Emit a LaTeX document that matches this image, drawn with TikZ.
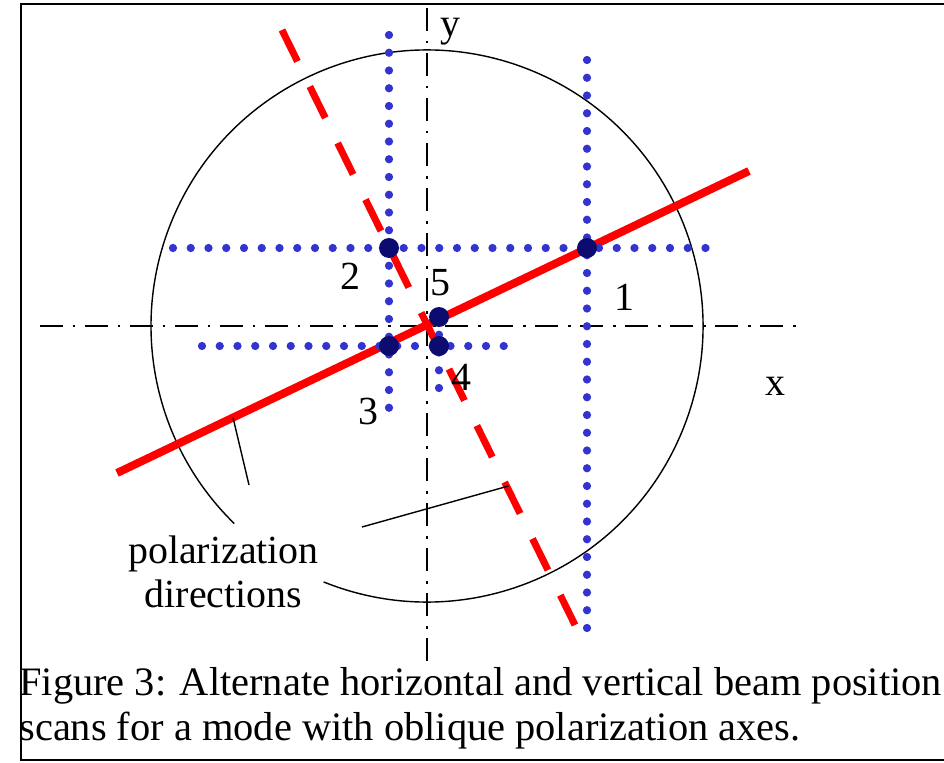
\documentclass[tikz,border=0pt]{standalone}
\usepackage{fontspec}
\setmainfont{Liberation Serif}
\usetikzlibrary{calc}
\definecolor{beamred}{HTML}{FF0000}
\definecolor{scanblue}{HTML}{3333D0}
\definecolor{spotnavy}{HTML}{0B0B70}

\begin{document}
\begin{tikzpicture}[
  axis/.style={black, line width=0.7pt, dash pattern=on 0.46cm off 0.2cm on 0.05cm off 0.19cm},
  rim/.style={black, line width=0.8pt},
  major/.style={beamred, line width=0.16cm},
  minor/.style={beamred, line width=0.14cm, dash pattern=on 0.7cm off 0.56cm},
  scan/.style={scanblue, line width=0.165cm, line cap=round, dash pattern=on 0pt off 0.355cm},
  spot/.style={circle, fill=spotnavy, minimum size=0.4cm, inner sep=0pt},
  lbl/.style={font=\fontsize{22.7}{24.8}\selectfont, inner sep=0pt, anchor=base},
  captxt/.style={font=\fontsize{23}{26}\selectfont, inner sep=0pt, anchor=base west},
  leader/.style={black, line width=0.8pt},
  frame/.style={black, line width=0.04cm},
]

\useasboundingbox (-8.54,-8.72) rectangle (10.34,6.52);

% geometry
\def\R{5.52}        % ring radius

% ---------- axes and ring ----------
\draw[axis] (-7.74,0) -- (7.56,0);
\draw[axis] (0,6.36) -- (0,-6.72);
\draw[rim] (-112:\R) arc[start angle=-112, end angle=225.7, radius=\R];

% ---------- polarization axes ----------
\coordinate (majA) at (-6.2,-2.94);
\coordinate (majB) at (6.44,3.1);
\coordinate (minA) at (-2.9,5.92);
\coordinate (minB) at (2.96,-5.98);
\draw[major] (majA) -- (majB);
\draw[minor] (minA) -- (minB);

% ---------- scan lines through the beam positions ----------
\coordinate (p1) at (3.2,1.56);
\coordinate (p2) at (-0.76,1.56);
\coordinate (p3) at (-0.76,-0.4);
\coordinate (p4) at (0.24,-0.4);
\coordinate (p5) at (0.24,0.18);
\draw[scan] ($(p1)+(0,3.76)$) -- ($(p1)+(0,-7.82)$);
\draw[scan] ($(p2)+(-4.32,0)$) -- ($(p1)+(2.56,0)$);
\draw[scan] ($(p2)+(0,4.26)$) -- ($(p3)+(0,-1.34)$);
\draw[scan] ($(p3)+(-3.74,0)$) -- ($(p4)+(1.36,0)$);
\draw[scan] (p5) -- ($(p4)+(0,-1.12)$);

% beam positions
\foreach \n in {1,...,5} {
  \node[spot] (s\n) at (p\n) {};
}

% ---------- labels ----------
\node[lbl] (n1) at (3.94,0.32) {1};
\node[lbl] (n2) at (-1.54,0.72) {2};
\node[lbl] (n3) at (-1.17,-1.96) {3};
\node[lbl] (n4) at (0.69,-1.28) {4};
\node[lbl] (n5) at (0.26,0.62) {5};
\node[lbl] (xlab) at (6.96,-1.38) {x};
\node[lbl] (ylab) at (0.47,5.78) {y};

% polarization direction pointers
\coordinate (lA) at (-3.88,-1.83);
\coordinate (lB) at (-3.56,-3.18);
\coordinate (lC) at (1.63,-3.2);
\coordinate (lD) at (-1.3,-4.02);
\draw[leader] (lA) -- (lB);
\draw[leader] (lC) -- (lD);
\node[lbl] (polA) at (-4.07,-4.74) {polarization};
\node[lbl] (polB) at (-4.07,-5.62) {directions};

% ---------- caption, cut by the page frame ----------
\begin{scope}
  \clip (-8.12,-8.72) rectangle (10.34,-6.6);
  \node[captxt] (capA) at (-8.16,-7.38) {Figure 3: Alternate horizontal and vertical beam position};
  \node[captxt] (capB) at (-8.16,-8.28) {scans for a mode with oblique polarization axes.};
\end{scope}
\draw[frame] (10.6,6.44) -- (-8.12,6.44) -- (-8.12,-8.68) -- (10.6,-8.68);

\end{tikzpicture}
\end{document}
